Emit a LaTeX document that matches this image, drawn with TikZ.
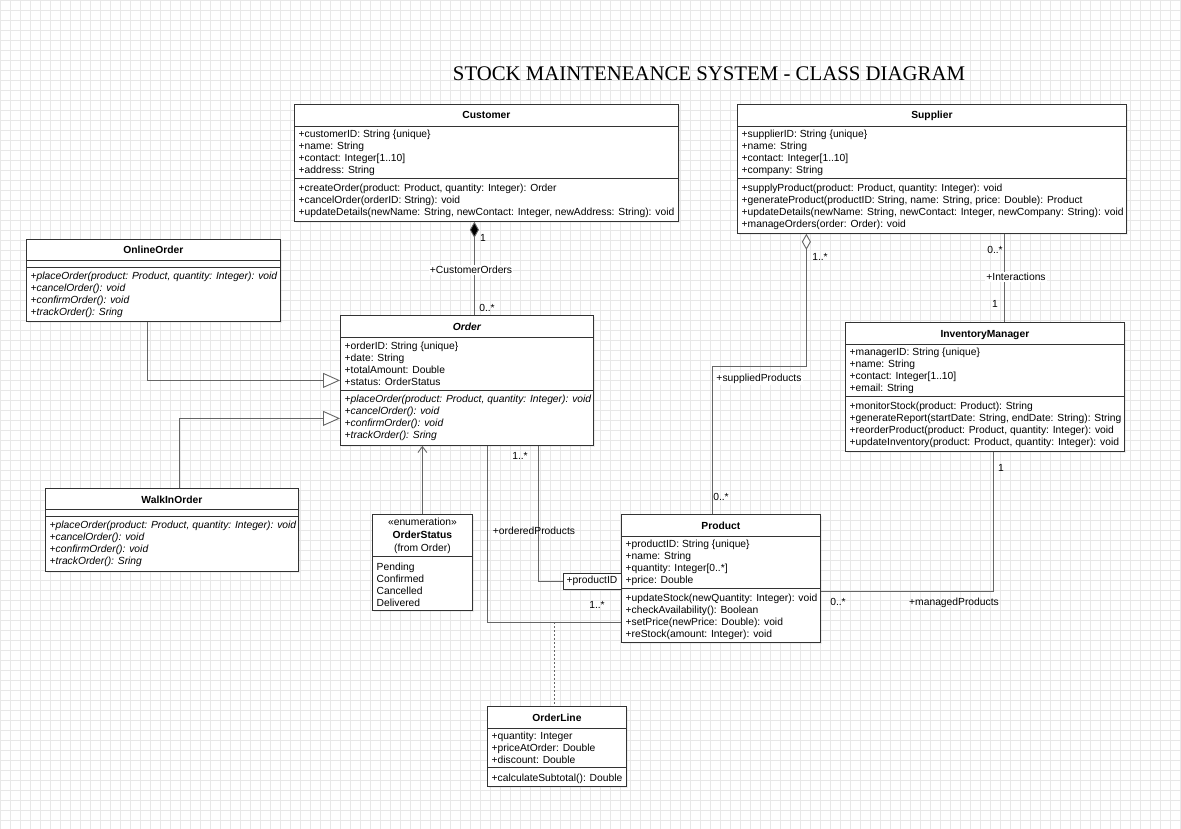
\documentclass[tikz,border=0pt]{standalone}
\usepackage{fontspec}
\setmainfont{Liberation Serif}
\setsansfont{Liberation Sans}
\usetikzlibrary{arrows.meta,shadows}

\tikzset{
  cls/.style={draw=black!80, line width=0.8pt, fill=white, anchor=north west, inner sep=0pt,
    drop shadow={shadow xshift=2pt, shadow yshift=-2pt, opacity=0.12}},
  hd/.style={anchor=base, inner sep=0pt, font=\sffamily\bfseries\fontsize{10.3}{12}\selectfont},
  member/.style={anchor=base west, inner sep=0pt, font=\sffamily\fontsize{10.3}{12}\selectfont},
  virt/.style={member, font=\sffamily\itshape\fontsize{10.3}{12}\selectfont},
  lbl/.style={inner sep=1pt, font=\sffamily\fontsize{10.3}{12}\selectfont},
  conn/.style={draw=black!60, line width=0.9pt},
  comp/.style={conn, {Diamond[length=16pt,width=9pt,fill=black]}-},
  aggr/.style={conn, {Diamond[open,length=16pt,width=9pt,fill=white]}-},
  gen/.style={conn, -{Triangle[open,length=17pt,width=15pt,fill=white]}},
  dep/.style={conn, -{Straight Barb[length=6pt,width=9pt]}},
  sepline/.style={draw=black!80, line width=0.8pt}
}

\newcommand{\members}[4][member]{%
  \foreach \txt [count=\k from 0] in {#4}
    \node[#1] at ([xshift=4.5pt, yshift={-(#3+1+12*\k)*1pt}]#2.north west) {\txt};}
\newcommand{\parts}[3]{%
  \draw[sepline] ([yshift=-#2pt]#1.north west) -- ([yshift=-#2pt]#1.north east);
  \draw[sepline] ([yshift=-#3pt]#1.north west) -- ([yshift=-#3pt]#1.north east);}

\begin{document}
\begin{tikzpicture}[x=1pt, y=-1pt]
\useasboundingbox (0,0) rectangle (1181,829);
\fill[white] (0,0) rectangle (1181,829);
\draw[step=10pt, black!9, line width=0.4pt] (0,0) grid (1181,829);

\node[font=\rmfamily\fontsize{20.8}{24}\selectfont, anchor=base] (title) at (709,81)
  {STOCK MAINTENEANCE SYSTEM - CLASS DIAGRAM};

\node[cls, minimum width=384pt, minimum height=117pt] (customer) at (294,104) {};
\node[hd] at ([yshift=-15pt]customer.north) {Customer};
\parts{customer}{22}{74}
\members{customer}{32.5}{{+customerID: String \{unique\}}, +name: String, {+contact: Integer[1..10]}, +address: String}
\members{customer}{86.5}{{+createOrder(product: Product, quantity: Integer): Order}, {+cancelOrder(orderID: String): void},
  {+updateDetails(newName: String, newContact: Integer, newAddress: String): void}}

\node[cls, minimum width=389pt, minimum height=129pt] (supplier) at (737,104) {};
\node[hd] at ([yshift=-15pt]supplier.north) {Supplier};
\parts{supplier}{22}{74}
\members{supplier}{32.5}{{+supplierID: String \{unique\}}, +name: String, {+contact: Integer[1..10]}, +company: String}
\members{supplier}{86.5}{{+supplyProduct(product: Product, quantity: Integer): void},
  {+generateProduct(productID: String, name: String, price: Double): Product},
  {+updateDetails(newName: String, newContact: Integer, newCompany: String): void}, {+manageOrders(order: Order): void}}

\node[cls, minimum width=254pt, minimum height=82pt] (online) at (26,239) {};
\node[hd] at ([yshift=-15pt]online.north) {OnlineOrder};
\parts{online}{21}{28}
\members[virt]{online}{39.5}{{+placeOrder(product: Product, quantity: Integer): void}, {+cancelOrder(): void},
  {+confirmOrder(): void}, {+trackOrder(): Sring}}

\node[cls, minimum width=253pt, minimum height=130pt] (order) at (340,315) {};
\node[hd, font=\sffamily\bfseries\itshape\fontsize{10.3}{12}\selectfont] at ([yshift=-15pt]order.north) {Order};
\parts{order}{22}{75}
\members{order}{33.5}{{+orderID: String \{unique\}}, +date: String, +totalAmount: Double, +status: OrderStatus}
\members[virt]{order}{86.5}{{+placeOrder(product: Product, quantity: Integer): void}, {+cancelOrder(): void},
  {+confirmOrder(): void}, {+trackOrder(): Sring}}

\node[cls, minimum width=279pt, minimum height=129pt] (manager) at (845,322) {};
\node[hd] at ([yshift=-15pt]manager.north) {InventoryManager};
\parts{manager}{22}{74}
\members{manager}{32.5}{{+managerID: String \{unique\}}, +name: String, {+contact: Integer[1..10]}, +email: String}
\members{manager}{86.5}{{+monitorStock(product: Product): String}, {+generateReport(startDate: String, endDate: String): String},
  {+reorderProduct(product: Product, quantity: Integer): void}, {+updateInventory(product: Product, quantity: Integer): void}}

\node[cls, minimum width=253pt, minimum height=83pt] (walkin) at (45,488) {};
\node[hd] at ([yshift=-15pt]walkin.north) {WalkInOrder};
\parts{walkin}{21}{28}
\members[virt]{walkin}{39.5}{{+placeOrder(product: Product, quantity: Integer): void}, {+cancelOrder(): void},
  {+confirmOrder(): void}, {+trackOrder(): Sring}}

\node[cls, minimum width=100pt, minimum height=96pt] (status) at (372,514) {};
\node[hd, font=\sffamily\fontsize{10.3}{12}\selectfont] at ([yshift=-11pt]status.north) {«enumeration»};
\node[hd] at ([yshift=-24pt]status.north) {OrderStatus};
\node[hd, font=\sffamily\fontsize{10.3}{12}\selectfont] at ([yshift=-37pt]status.north) {(from Order)};
\draw[sepline] ([yshift=-42pt]status.north west) -- ([yshift=-42pt]status.north east);
\members{status}{55.5}{Pending, Confirmed, Cancelled, Delivered}

\node[cls, minimum width=199pt, minimum height=128pt] (product) at (621,514) {};
\node[hd] at ([yshift=-15pt]product.north) {Product};
\parts{product}{22}{74}
\members{product}{32.5}{{+productID: String \{unique\}}, +name: String, {+quantity: Integer[0..*]}, +price: Double}
\members{product}{86.5}{{+updateStock(newQuantity: Integer): void}, {+checkAvailability(): Boolean},
  {+setPrice(newPrice: Double): void}, {+reStock(amount: Integer): void}}

\node[cls, minimum width=139pt, minimum height=80pt] (orderline) at (487,706) {};
\node[hd] at ([yshift=-15pt]orderline.north) {OrderLine};
\parts{orderline}{22}{61}
\members{orderline}{32.5}{+quantity: Integer, +priceAtOrder: Double, +discount: Double}
\members{orderline}{74.5}{{+calculateSubtotal(): Double}}

\node[cls, anchor=center, minimum width=58pt, minimum height=16pt, font=\sffamily\fontsize{10.3}{12}\selectfont]
  (qual) at (592,581) {+productID};

\draw[comp] ([xshift=-12pt]customer.south) -- ([xshift=-12pt]customer.south |- order.north);
\draw[gen] ([xshift=-6pt]online.south) |- (order.west);
\draw[gen] ([xshift=7.5pt]walkin.north) |- ([yshift=-38pt]order.west);
\draw[dep] (status.north) -- (status.north |- order.south);
\draw[conn] ([xshift=71.5pt]order.south) |- (qual.west);
\draw[conn] ([xshift=20.5pt]order.south) |- ([yshift=-44pt]product.west);
\coordinate (ac) at (554,622);
\draw[conn, dash pattern=on 2pt off 2pt] (ac) -- (ac |- orderline.north);
\draw[aggr] ([xshift=-125.5pt]supplier.south) -- ++(0,133) -| ([xshift=-8.5pt]product.north);
\draw[conn] ([xshift=72.5pt]supplier.south) -- ([xshift=72.5pt]supplier.south |- manager.north);
\draw[conn] ([xshift=8.5pt]manager.south) |- ([yshift=-13pt]product.east);

\node[lbl] (m1) at (483,238) {1};
\node[lbl, fill=white] (r1) at (471,270) {+CustomerOrders};
\node[lbl] (m2) at (487,308) {0..*};
\node[lbl] (m3) at (520,456) {1..*};
\node[lbl] (r2) at (534,531) {+orderedProducts};
\node[lbl] (m4) at (597,605) {1..*};
\node[lbl] (m5) at (820,257) {1..*};
\node[lbl, fill=white] (r3) at (759,379) {+suppliedProducts};
\node[lbl] (m6) at (721,497) {0..*};
\node[lbl] (m7) at (995,250) {0..*};
\node[lbl, fill=white] (r4) at (1016,277) {+Interactions};
\node[lbl] (m8) at (995,304) {1};
\node[lbl] (m9) at (1001,468) {1};
\node[lbl] (m10) at (838,602) {0..*};
\node[lbl] (r5) at (954,603) {+managedProducts};
\end{tikzpicture}
\end{document}
